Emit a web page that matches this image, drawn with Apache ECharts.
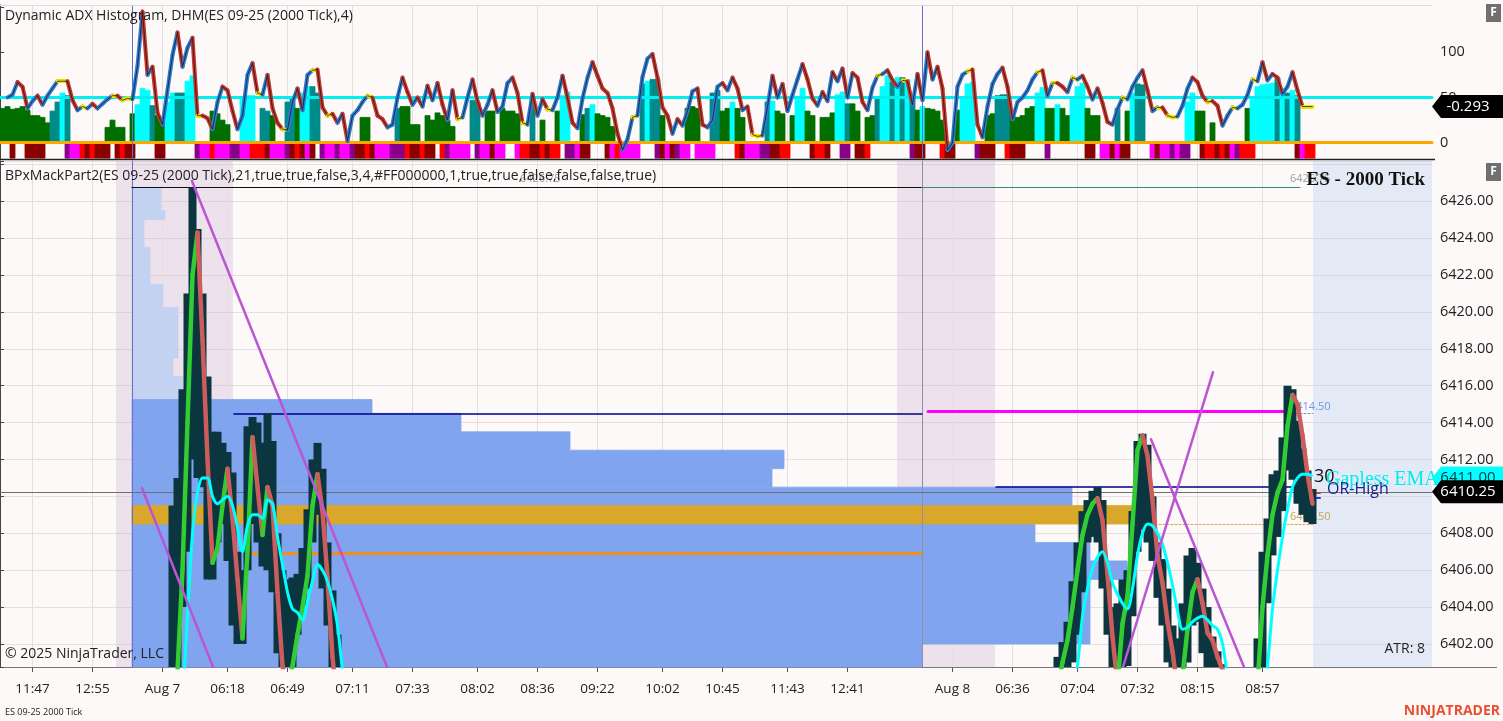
<!DOCTYPE html>
<html>
<head>
<meta charset="utf-8">
<title>ES 09-25 2000 Tick</title>
<script src="https://cdn.jsdelivr.net/npm/echarts@6/dist/echarts.min.js"></script>
<style>
  html, body { margin: 0; padding: 0; background: #fdf9f8; }
  #main { width: 1503px; height: 721px; }
</style>
</head>
<body>
<div id="main"></div>
<script>
// one x slot per 2000 tick bar, bar i sits at x = i + 0.5

// time axis
const timeTickBars = [6, 18, 32, 45, 57, 70, 82, 95, 107, 119, 132, 144, 157, 169, 190, 202, 215, 227, 239, 252];
const timeTickLabels = ['11:47', '12:55', 'Aug 7', '06:18', '06:49', '07:11', '07:33', '08:02', '08:36', '09:22',
  '10:02', '10:45', '11:43', '12:41', 'Aug 8', '06:36', '07:04', '07:32', '08:15', '08:57'];

// Dynamic ADX histogram panel
const adxLine = [
  null, 50, 53, 67, 62, 38, 46, 52, 42, 52,
  60, 68, 68, 68, 47, 36, 40, 38, 43, 38,
  43, 48, 52, 52, 47, 49, 48, 85, 145, 75,
  84, 33, 20, 58, 97, 122, 84, 105, 116, 30,
  30, 27, 15, 45, 62, 58, 35, 15, 30, 75,
  88, 55, 53, 75, 38, 22, 15, 14, 45, 60,
  36, 75, 80, 81, 39, 30, 32, 22, 32, 2,
  30, 36, 45, 52, 50, 30, 26, 17, 20, 50,
  72, 56, 42, 50, 40, 63, 47, 66, 42, 25,
  58, 26, 28, 50, 70, 46, 30, 42, 58, 34,
  40, 66, 72, 55, 22, 20, 54, 30, 48, 37,
  36, 50, 74, 50, 22, 16, 49, 72, 89, 74,
  60, 55, 38, 10, -8, 4, 28, 30, 73, 93,
  98, 72, 39, 30, 10, 26, 19, 35, 57, 60,
  20, 17, 25, 62, 66, 58, 72, 60, 36, 40,
  9, 7, 8, 40, 74, 50, 65, 35, 53, 70,
  87, 70, 49, 41, 56, 46, 78, 68, 82, 50,
  77, 72, 45, 36, 61, 74, 76, 80, 69, 62,
  69, 68, 42, 76, 47, 100, 70, 84, 60, -8,
  0, 62, 75, 79, 81, 20, 6, 40, 65, 76,
  83, 62, 26, 45, 50, 58, 70, 78, 80, 52,
  66, 66, 62, 56, 72, 70, 74, 62, 48, 60,
  44, 23, 20, 37, 50, 48, 62, 72, 80, 58,
  35, 39, 39, 30, 28, 29, 41, 60, 72, 67,
  52, 45, 46, 41, 19, 30, 39, 38, 42, 53,
  70, 68, 89, 69, 76, 72, 54, 62, 78, 58,
  40, 40, 40
];
const histVals = [
  38, 40, 37, 38, 40, 36, 30, 30, 28, 22,
  35, 45, 55, 52, 0, 0, 0, 0, 0, 0,
  0, 17, 25, 17, 17, 0, 32, 42, 60, 58,
  41, 30, 28, 45, 55, 55, 55, 68, 74, 0,
  0, 0, 35, 32, 25, 20, 0, 0, 48, 52,
  52, 0, 38, 35, 30, 0, 0, 45, 50, 38,
  55, 62, 62, 55, 0, 0, 0, 0, 0, 0,
  0, 0, 28, 28, 0, 0, 0, 0, 0, 38,
  40, 40, 20, 20, 0, 30, 25, 33, 30, 25,
  18, 0, 0, 0, 47, 45, 0, 35, 35, 0,
  38, 35, 35, 32, 0, 0, 45, 0, 25, 0,
  0, 35, 52, 56, 0, 0, 31, 38, 42, 32,
  30, 28, 18, 0, 0, 0, 0, 0, 65, 68,
  70, 70, 30, 0, 0, 0, 0, 38, 40, 38,
  0, 0, 55, 58, 35, 38, 45, 38, 28, 0,
  0, 0, 0, 45, 46, 35, 32, 0, 30, 48,
  60, 35, 30, 0, 28, 28, 33, 53, 56, 43,
  43, 35, 0, 28, 30, 50, 62, 74, 67, 72,
  72, 70, 50, 36, 40, 38, 37, 35, 25, 0,
  0, 36, 50, 65, 67, 0, 0, 30, 32, 52,
  53, 53, 30, 28, 30, 38, 40, 55, 61, 38,
  38, 42, 38, 30, 50, 62, 66, 38, 30, 30,
  0, 0, 0, 38, 0, 35, 55, 65, 64, 0,
  0, 0, 0, 0, 0, 0, 0, 45, 55, 35,
  35, 0, 22, 0, 0, 0, 0, 0, 0, 38,
  48, 62, 64, 65, 66, 72, 60, 55, 58, 52,
  0, 0, 0
];
// G dark green, T teal, C cyan
const histColors = [
  'GGGGGGGGGG', 'TTCT......', '.GGGG.GCCC', 'TGGCCTTCC.', '..GGGG..CC',
  'C.TTG..TTG', 'CCTT......', '..GG.....T', 'GGGG.GGGGG', 'G...TT.GG.',
  'GGGG..T.G.', '.GCC..GTCG', 'GGG.....TC', 'TTG....GGG', '..TTGGCGG.',
  '...TCGG.GC', 'CGG.GGGCCT', 'GG.GGTCCTC', 'TCTGCGGGG.', '.GCCC..GGT',
  'TTGGGGGCCG', 'GCGGCCCGGG', '...T.GCTT.', '.......CCG', 'G.G......G',
  'CCCCCTCTCT', '...'
].join('');
// R red, D dark red, M magenta, P purple
const stripColors = [
  '..D..DDDD.', '...PMMRDRD', 'DD.DRDD...', '.DD......P', 'MMRMMMPPMM',
  'RRRDMMMPDR', 'DMD.PMMPMM', 'PDDRDMMMPP', 'PRDDRDD.RP', 'MMMM.PMMDM',
  'M..MRRDDRD', 'RR.PPMDD..', '.DMRMMMM..', '.PDMDPMM.M', 'MMM....RDM',
  'MMPPDDRR..', '..DRRD..PP', '.DDR......', '..PDD...RD', 'D....PDDD.',
  '.RDDD....P', '.......DD.', 'MMDMDD....', 'MDMMPMPP..', 'DRRDRDMPRR',
  'R........D', 'MRR'
].join('');
const adxLevels = [0, 50];
const adxTagText = '-0.293';

// price panel, Aug 7 open (bars from 34)
const aug7Start = 34;
const aug7Low = [6398, 6400, 6404, 6407, 6412, 6411, 6410.5, 6405.5, 6405.5, 6407.5, 6408.5, 6406.5, 6403, 6402, 6402,
  6406, 6408.5, 6407.5, 6406.2, 6406, 6404.8, 6401.5, 6400, 6399.5, 6400.5, 6402.5, 6404, 6405, 6407.5, 6409,
  6405, 6403, 6400, 6398];
const aug7High = [6409.5, 6411, 6415.8, 6421, 6426.75, 6424.5, 6421, 6416.5, 6413.5, 6413.5, 6412.9, 6412.4, 6411.3,
  6407, 6406, 6413.8, 6414.3, 6414, 6412.9, 6414.5, 6413, 6408, 6406, 6405.5, 6405.6, 6405.8, 6407.2, 6409.3,
  6412, 6412.9, 6411.5, 6407.5, 6404.9, 6402.5];
const aug7Ma = [6398, 6400.5, 6406, 6414, 6422, 6424.3, 6418.5, 6412, 6406.4, 6407.2, 6409.5, 6411.5, 6408.8, 6405.5,
  6402.3, 6407, 6413.2, 6410.5, 6407.9, 6410.5, 6409.5, 6404.8, 6400.8, 6399.8, 6400.8, 6402.5, 6404, 6405.7,
  6409.5, 6411.2, 6409.2, 6405.6, 6401.3, 6398.5];
const aug7Ema = [null, 6396, 6399, 6403.5, 6408, 6410.2, 6411, 6411, 6410, 6409.6, 6409.8, 6410, 6409.5, 6408.3, 6407,
  6408.4, 6409, 6409, 6408.8, 6409.8, 6409.6, 6407.8, 6406.3, 6404.8, 6403.9, 6403.7, 6403.3, 6404.3, 6405.4,
  6406.3, 6406, 6405.4, 6404.4, 6403, 6400.5, 6398];

// price panel, Aug 8 open (bars from 211)
const aug8Start = 211;
const aug8Low = [6399, 6399.5, 6400.5, 6401, 6402.5, 6404.8, 6407.5, 6407.8, 6407.5, 6405,
  6402.5, 6400.5, 6399.5, 6400.5, 6400.8, 6403.5, 6407, 6408.2, 6407.5, 6406.5,
  6404.5, 6403, 6401, 6399.5, 6399.5, 6400.2, 6401, 6403, 6403.2, 6401.5,
  6400.5, 6399.5, 6399.5, 6399, null, null, null, null, null, null,
  6400, 6400.5, 6404.2, 6406.8, 6407.8, 6409.2, 6411.4, 6410.9, 6409.6, 6409,
  6408.6, 6408.5];
const aug8High = [6401.3, 6402.1, 6403.2, 6405.4, 6407.5, 6409.2, 6409.8, 6410.3, 6410.5, 6409.8,
  6405.6, 6404, 6404.2, 6405.5, 6406, 6409.2, 6413, 6413.4, 6412.8, 6410,
  6407.5, 6406.6, 6405, 6403, 6402.3, 6404.2, 6406.8, 6407.2, 6406.4, 6405,
  6404, 6402.4, 6401.6, 6400.9, null, null, null, null, null, null,
  6402.3, 6407, 6408.8, 6411.2, 6411.4, 6413.2, 6416, 6415.8, 6414.1, 6412.6,
  6411.4, 6410.4];
const aug8Ma = [6399.5, 6401, 6402.2, 6404, 6406, 6407.9, 6409, 6409.6, 6409.9, 6408.7,
  6405.8, 6402.4, 6399.8, 6403.1, 6404.6, 6408.5, 6412.5, 6413.3, 6412.2, 6409.8,
  6406.8, 6405.3, 6403.2, 6401.6, 6399.5, 6400.3, 6402.8, 6404.8, 6405.5, 6404.2,
  6402.6, 6402.2, 6401.3, 6400.6, 6399.5, null, null, null, null, null,
  6399.8, 6404, 6406.8, 6409, 6410.2, 6410.9, 6413.8, 6415.5, 6415, 6413.3,
  6411.2, 6409.6];
const aug8Ema = [null, null, null, 6399, 6400.8, 6403.5, 6405, 6406.1, 6406.7, 6407,
  6406.4, 6405.3, 6404.7, 6404.2, 6403.9, 6405, 6406.8, 6408, 6408.5, 6408.4,
  6408, 6407.4, 6406.4, 6405.2, 6403.8, 6402.8, 6402.9, 6403.2, 6403.4, 6403.5,
  6403.3, 6403, 6402.8, 6402, 6400.3, 6399, null, null, null, null,
  null, 6398.5, 6400.8, 6403.9, 6406, 6407.8, 6409.3, 6410.5, 6411, 6411.2,
  6411.2, 6411.1];

// volume profiles: [price low, price high, right end (x)]
const profileAStart = 26.4;
const profileALight = [[6425.5, 6426.75, 32.2], [6425.0, 6425.5, 33.0], [6423.5, 6425.0, 28.8], [6421.5, 6423.5, 30.0],
  [6420.25, 6421.5, 32.6], [6417.5, 6420.25, 35.6], [6416.5, 6417.5, 34.6], [6415.25, 6416.5, 36.6]];
const profileADark = [[6414.5, 6415.25, 74.4], [6413.5, 6414.5, 92.2], [6412.5, 6413.5, 114], [6411.5, 6412.5, 156.8],
  [6410.5, 6411.5, 154.4], [6400.75, 6410.5, 184.4]];
const profileBStart = 184.4;
const profileBDark = [[6409.5, 6410.5, 214.4], [6407.5, 6408.5, 207], [6406.5, 6407.5, 218], [6405.5, 6406.5, 225.4],
  [6402, 6405.5, 218]];
const pocRange = [6408.5, 6409.5];
const pocFrom = 26.4, pocTo = 229.4;

// session shading and future area
const sessionBandFrom = [23.2, 179.4];
const sessionBandTo = [46.6, 199];
const sessionLineX = [26.4, 184.4];
const futureFrom = 262.6;

// horizontal levels
const levelPrice = [6426.75, 6426.75, 6414.5, 6410.5, 6414.6, 6406.9, 6408.5, 6414.5, 6410.2, 6409.95];
const levelFrom = [26.4, 184.4, 46.8, 199.2, 185.6, 50.4, 229.4, 258.4, 262, 262];
const levelTo = [184.4, 260, 184.4, 261, 258.4, 184.4, 262.6, 262.6, 264, 264];

// trend lines
const trendX0 = [38.4, 28.4, 224.6, 230.2];
const trendP0 = [6427.1, 6410.45, 6400.75, 6413.1];
const trendX1 = [77.4, 42.6, 242.6, 248.8];
const trendP1 = [6400.75, 6400.75, 6416.73, 6400.75];

const lastPrice = 6410.25;
const emaTagPrice = 6411.00;

// ---------------------------------------------------------------
const X_MAX = 286.4;
const ADX_MIN = -18, ADX_MAX = 152.3;
const PRICE_MIN = 6400.75, PRICE_MAX = 6428.18;
const STRIP_DEPTH = -17;

const histPalette = { G: '#006f00', T: '#008b8b', C: '#00ffff' };
const stripPalette = { R: '#ff0000', D: '#8b0000', M: '#ff00ff', P: '#8b008b' };
const levelStyle = [
  { color: '#111111', width: 1.2, type: 'solid' },
  { color: '#2e8b8b', width: 1.2, type: 'solid' },
  { color: '#00008b', width: 1.5, type: 'solid' },
  { color: '#00008b', width: 1.5, type: 'solid' },
  { color: '#ff00ff', width: 3, type: 'solid' },
  { color: '#ff8c00', width: 3, type: [3, 3] },
  { color: '#d4a84a', width: 1, type: [2, 2] },
  { color: '#6495ed', width: 1, type: [2, 2] },
  { color: '#ff2020', width: 2, type: 'solid' },
  { color: '#2030ff', width: 2, type: 'solid' }
];

const tickX = timeTickBars.map(i => i + 0.5);
function labelFor(v) {
  const k = tickX.findIndex(t => Math.abs(t - v) < 1e-6);
  return k < 0 ? '' : timeTickLabels[k];
}

// rectangles drawn through the axes; seam = same-colour stroke to hide anti-alias gaps
function rectSeries(rows, colors, z, gi, seam) {
  return {
    type: 'custom', xAxisIndex: gi, yAxisIndex: gi, z: z, silent: true,
    data: rows,
    renderItem: function (params, api) {
      const a = api.coord([api.value(0), api.value(3)]);
      const b = api.coord([api.value(1), api.value(2)]);
      const cs = params.coordSys;
      const r = echarts.graphic.clipRectByRect(
        { x: Math.min(a[0], b[0]), y: Math.min(a[1], b[1]), width: Math.abs(b[0] - a[0]), height: Math.abs(b[1] - a[1]) },
        { x: cs.x, y: cs.y, width: cs.width, height: cs.height });
      if (!r) return;
      const fill = Array.isArray(colors) ? colors[params.dataIndex] : colors;
      const style = { fill: fill };
      if (seam) { style.stroke = fill; style.lineWidth = 0.8; }
      return { type: 'rect', shape: r, style: style };
    }
  };
}

function segLines(segs, width, z, gi) {
  return {
    type: 'lines', coordinateSystem: 'cartesian2d', xAxisIndex: gi, yAxisIndex: gi,
    polyline: false, clip: true, silent: true, z: z,
    lineStyle: { width: width, cap: 'round', opacity: 1 },
    data: segs
  };
}

// histogram + strip rectangles
const histRows = [], histFill = [];
histVals.forEach((v, i) => {
  const c = histColors[i];
  if (c !== '.' && v > 0) { histRows.push([i, i + 1, 0, v]); histFill.push(histPalette[c]); }
});
const stripRows = [], stripFill = [];
for (let i = 0; i < stripColors.length; i++) {
  const c = stripColors[i];
  if (c !== '.') { stripRows.push([i, i + 1, STRIP_DEPTH, 0]); stripFill.push(stripPalette[c]); }
}

// ADX line segments coloured by slope
const adxSegs = [];
for (let i = 0; i + 1 < adxLine.length; i++) {
  const a = adxLine[i], b = adxLine[i + 1];
  if (a == null || b == null) continue;
  const d = b - a;
  const color = d > 2 ? '#2c7bd2' : d < -2 ? '#c8352c' : '#f2e200';
  adxSegs.push({ coords: [[i + 0.5, a], [i + 1.5, b]], lineStyle: { color: color } });
}

// MA segments coloured by slope
function maSegs(start, vals) {
  const out = [];
  for (let k = 0; k + 1 < vals.length; k++) {
    const a = vals[k], b = vals[k + 1];
    if (a == null || b == null) continue;
    out.push({ coords: [[start + k + 0.5, a], [start + k + 1.5, b]],
      lineStyle: { color: b >= a ? '#32cd32' : '#cd5c5c' } });
  }
  return out;
}
function candleRows(start, lo, hi) {
  const rows = [];
  lo.forEach((l, k) => {
    if (l == null || hi[k] == null) return;
    const x = start + k + 0.5;
    rows.push([x - 0.8, x + 0.8, l, hi[k]]);
  });
  return rows;
}
function pts(start, vals) { return vals.map((v, k) => [start + k + 0.5, v]); }

const vGridTop = tickX.map(x => ({ coords: [[x, ADX_MIN], [x, ADX_MAX]], lineStyle: { color: '#e4e0e0' } }));
const vGridBot = tickX.map(x => ({ coords: [[x, PRICE_MIN], [x, PRICE_MAX]], lineStyle: { color: '#e4e0e0' } }));

const bandRows = sessionBandFrom.map((f, k) => [f, sessionBandTo[k], PRICE_MIN, PRICE_MAX]);
bandRows.push([futureFrom, X_MAX, PRICE_MIN, PRICE_MAX]);
const bandFill = ['rgba(205,175,210,0.32)', 'rgba(205,175,210,0.32)', 'rgba(175,200,240,0.32)'];

const profRows = [], profFill = [];
profileALight.forEach(r => { profRows.push([profileAStart, r[2], r[0], r[1]]); profFill.push('#c4d2f2'); });
profileADark.forEach(r => { profRows.push([profileAStart, r[2], r[0], r[1]]); profFill.push('#80a4ee'); });
profileBDark.forEach(r => { profRows.push([profileBStart, r[2], r[0], r[1]]); profFill.push('#80a4ee'); });

const levelSegs = levelPrice.map((p, k) => ({ coords: [[levelFrom[k], p], [levelTo[k], p]], lineStyle: levelStyle[k] }));
levelSegs.push({ coords: [[0, lastPrice], [X_MAX, lastPrice]], lineStyle: { color: '#6e6e6e', width: 1 } });

const trendSegs = trendX0.map((x, k) => ({ coords: [[x, trendP0[k]], [trendX1[k], trendP1[k]]], lineStyle: { color: '#ba55d3' } }));

const adxLevelSegs = adxLevels.map((v, k) => ({ coords: [[0, v], [X_MAX, v]],
  lineStyle: { color: k === 0 ? '#ffa500' : '#00f0f0', width: 3 } }));

const sessTop = sessionLineX.map(x => ({ coords: [[x, ADX_MIN], [x, ADX_MAX]], lineStyle: { color: '#6670cc' } }));
const sessBot = sessionLineX.map((x, k) => ({ coords: [[x, PRICE_MIN], [x, PRICE_MAX]], lineStyle: { color: k === 0 ? '#6670cc' : '#8b8fa8' } }));

const chart = echarts.init(document.getElementById('main'));
const FONT = "'Open Sans', 'Noto Sans', sans-serif";

const option = {
  backgroundColor: '#fdf9f8',
  animation: false,
  textStyle: { fontFamily: FONT },
  grid: [
    { left: 0, right: 71, top: 5, height: 154 },
    { left: 0, right: 71, top: 161, height: 506 }
  ],
  xAxis: [
    { type: 'value', gridIndex: 0, min: 0, max: X_MAX, show: false },
    { type: 'value', gridIndex: 1, min: 0, max: X_MAX,
      axisLine: { show: true, onZero: false, lineStyle: { color: '#777' } },
      splitLine: { show: false },
      axisTick: { show: true, customValues: tickX, length: 5, lineStyle: { color: '#555' } },
      axisLabel: { show: true, customValues: tickX, formatter: labelFor, color: '#222', fontSize: 13.5, margin: 15, fontFamily: FONT } }
  ],
  yAxis: [
    { type: 'value', gridIndex: 0, position: 'right', min: ADX_MIN, max: ADX_MAX, minInterval: 50, maxInterval: 50,
      axisLine: { show: true, lineStyle: { color: '#444' } },
      axisTick: { show: true, length: 4, lineStyle: { color: '#444' } },
      splitLine: { show: false },
      axisLabel: { color: '#222', fontSize: 14.5, margin: 8, fontFamily: FONT,
        formatter: v => (v === 0 || v === 50 || v === 100) ? String(v) : '' } },
    { type: 'value', gridIndex: 1, position: 'right', min: PRICE_MIN, max: PRICE_MAX, minInterval: 2, maxInterval: 2,
      axisLine: { show: true, lineStyle: { color: '#444' } },
      axisTick: { show: true, length: 4, lineStyle: { color: '#444' } },
      splitLine: { show: true, lineStyle: { color: '#e4e0e0' } },
      axisLabel: { color: '#222', fontSize: 14.5, margin: 8, fontFamily: FONT,
        formatter: v => (Math.abs(v / 2 - Math.round(v / 2)) < 1e-6 && v < 6427) ? v.toFixed(2) : '' } }
  ],
  series: [
    // top panel
    segLines(vGridTop, 1, 1, 0),
    rectSeries(histRows, histFill, 3, 0, true),
    rectSeries(stripRows, stripFill, 3, 0, true),
    segLines(adxLevelSegs, 3, 4, 0),
    segLines(sessTop, 1, 5, 0),
    segLines(adxSegs, 4, 6, 0),
    { type: 'line', xAxisIndex: 0, yAxisIndex: 0, z: 7, silent: true, showSymbol: false,
      data: pts(0, adxLine), lineStyle: { color: '#151515', width: 1, opacity: 0.75 } },
    // bottom panel
    rectSeries(bandRows, bandFill, 1, 1),
    segLines(vGridBot, 1, 1, 1),
    rectSeries(profRows, profFill, 2, 1, true),
    rectSeries([[pocFrom, pocTo, pocRange[0], pocRange[1]]], '#d9a72a', 3, 1, true),
    segLines(sessBot, 1, 4, 1),
    segLines(levelSegs, 1.5, 4, 1),
    rectSeries(candleRows(aug7Start, aug7Low, aug7High), '#0b3640', 6, 1),
    rectSeries(candleRows(aug8Start, aug8Low, aug8High), '#0b3640', 6, 1),
    segLines(maSegs(aug7Start, aug7Ma).concat(maSegs(aug8Start, aug8Ma)), 4.5, 7, 1),
    { type: 'line', xAxisIndex: 1, yAxisIndex: 1, z: 8, silent: true, showSymbol: false, smooth: 0.3,
      data: pts(aug7Start, aug7Ema), lineStyle: { color: '#00ffff', width: 3 } },
    { type: 'line', xAxisIndex: 1, yAxisIndex: 1, z: 8, silent: true, showSymbol: false, smooth: 0.3,
      data: pts(aug8Start, aug8Ema), lineStyle: { color: '#00ffff', width: 3 } },
    segLines(trendSegs, 2.5, 9, 1)
  ]
};
chart.setOption(option);

// tags and texts
const yLast = chart.convertToPixel({ yAxisIndex: 1 }, lastPrice);
const yEma = chart.convertToPixel({ yAxisIndex: 1 }, emaTagPrice);
const yAdx = chart.convertToPixel({ yAxisIndex: 0 }, adxLine[adxLine.length - 1]);
const yTopLine = chart.convertToPixel({ yAxisIndex: 1 }, levelPrice[0]);
const yOrh = chart.convertToPixel({ yAxisIndex: 1 }, levelPrice[3]);
const yLvl1 = chart.convertToPixel({ yAxisIndex: 1 }, levelPrice[7]);
const yLvl2 = chart.convertToPixel({ yAxisIndex: 1 }, levelPrice[6]);
const xAx = 1432;

function tag(y, fill, textFill, text, z) {
  return [
    { type: 'polygon', z: z, shape: { points: [[xAx, y], [xAx + 9, y - 11.5], [1503, y - 11.5], [1503, y + 11.5], [xAx + 9, y + 11.5]] },
      style: { fill: fill } },
    { type: 'text', z: z + 1, x: 1468, y: y, style: { text: text, fill: textFill, font: '15px ' + FONT, textAlign: 'center', textVerticalAlign: 'middle' } }
  ];
}
function txt(x, y, text, font, fill, align, z) {
  return { type: 'text', z: z || 50, x: x, y: y,
    style: { text: text, font: font, fill: fill, textAlign: align || 'left', textVerticalAlign: 'middle' } };
}
function fBox(y) {
  return [
    { type: 'rect', z: 50, shape: { x: 1486, y: y, width: 15, height: 18 }, style: { fill: '#707070' } },
    txt(1493.5, y + 9, 'F', 'bold 12px ' + FONT, '#ffffff', 'center', 51)
  ];
}

const graphics = [
  { type: 'line', z: 40, shape: { x1: 0, y1: 159.5, x2: 1435, y2: 159.5 }, style: { stroke: '#222', lineWidth: 1.5 } },
  { type: 'line', z: 40, shape: { x1: 0, y1: 5.5, x2: 1432, y2: 5.5 }, style: { stroke: '#dddddd', lineWidth: 1 } },
  { type: 'line', z: 40, shape: { x1: 1432, y1: 667.5, x2: 1497, y2: 667.5 }, style: { stroke: '#777', lineWidth: 1 } },
  txt(5, 16, 'Dynamic ADX Histogram, DHM(ES 09-25 (2000 Tick),4)', '14px ' + FONT, '#222'),
  txt(5, 176, 'BPxMackPart2(ES 09-25 (2000 Tick),21,true,true,false,3,4,#FF000000,1,true,true,false,false,false,true)', '14px ' + FONT, '#222'),
  txt(520, yTopLine - 9, '6426.75', '11px ' + FONT, '#a0a0a0', 'left', 1),
  txt(1290, yTopLine - 9, '6426.75', '11px ' + FONT, '#a0a0a0', 'left', 1),
  txt(1425, 180, 'ES - 2000 Tick', 'bold 19px "Liberation Serif", serif', '#111', 'right'),
  txt(1290, yLvl1 - 6, '6414.50', '11px ' + FONT, '#6f98e6', 'left', 1),
  txt(1290, yLvl2 - 7, '6408.50', '11px ' + FONT, '#c8a25a', 'left', 1),
  txt(1314, yEma - 1, '30', '18px ' + FONT, '#111'),
  txt(1326, yEma + 2, 'Gapless EMA', '20px "Liberation Serif", serif', '#00eeee'),
  txt(1327, yOrh + 2, 'OR-High', '16px ' + FONT, '#22228a'),
  txt(5, 654, '\u00a9 2025 NinjaTrader, LLC', '14px ' + FONT, '#222'),
  txt(1425, 649, 'ATR: 8', '14px ' + FONT, '#222', 'right'),
  txt(5, 712, 'ES 09-25 2000 Tick', '9px ' + FONT, '#222'),
  txt(1500, 711, 'NINJATRADER', 'bold 14px ' + FONT, '#e8502f', 'right')
].concat(tag(yEma, '#00ffff', '#0b3640', emaTagPrice.toFixed(2), 60))
 .concat(tag(yLast, '#000000', '#ffffff', lastPrice.toFixed(2), 62))
 .concat(tag(yAdx, '#000000', '#ffffff', adxTagText, 62))
 .concat(fBox(4)).concat(fBox(163));

chart.setOption({ graphic: { elements: graphics } });
</script>
</body>
</html>
